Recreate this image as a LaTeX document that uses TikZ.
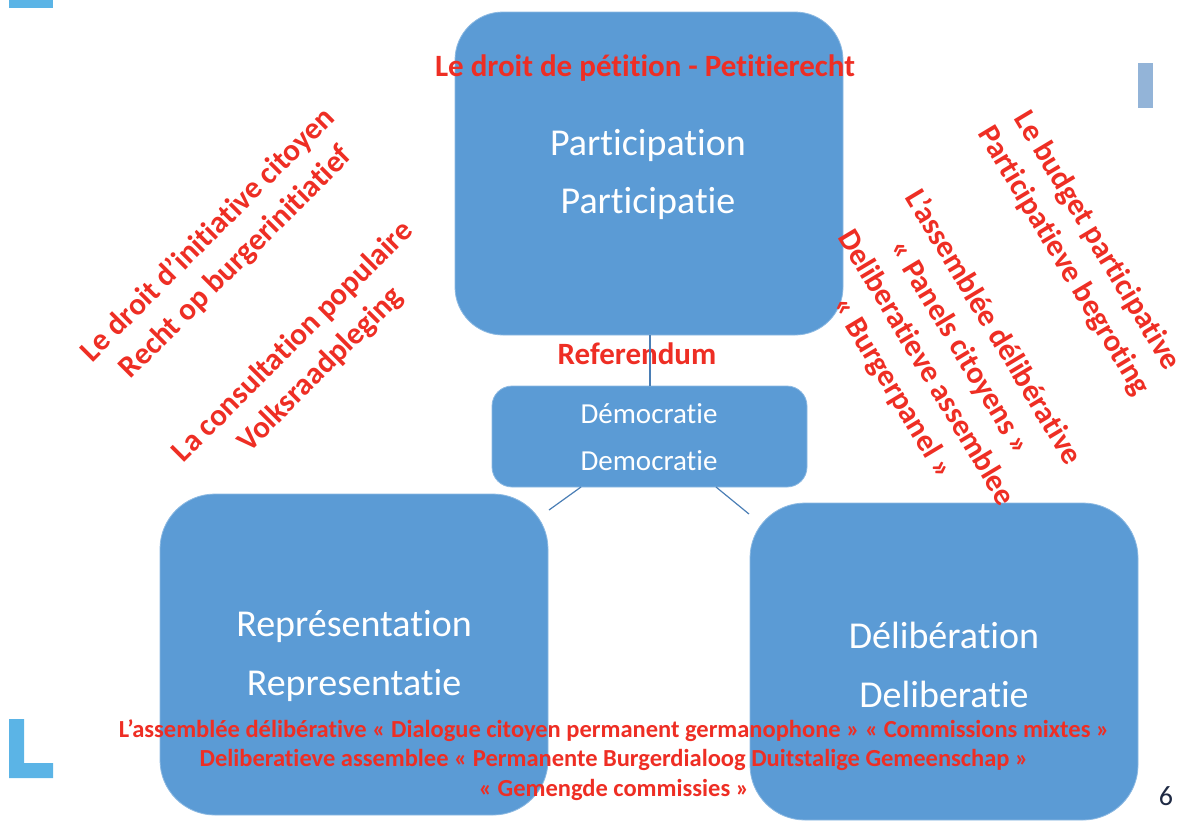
\documentclass[tikz,border=0pt]{standalone}
\usepackage{fontspec}
\setmainfont{Carlito}[Ligatures=NoCommon]
\definecolor{boxblue}{HTML}{5B9BD5}
\definecolor{lineblue}{HTML}{4A7EB5}
\definecolor{markblue}{HTML}{5BB4E6}
\definecolor{barblue}{HTML}{93B4D8}
\definecolor{tred}{HTML}{EE2E24}
\definecolor{navy}{HTML}{1F2A44}
\tikzset{
  rbox/.style={fill=boxblue, draw=boxblue!70!white, line width=0.8pt},
  wtext/.style={text=white, align=center, inner sep=0pt},
  redtxt/.style={text=tred, align=center, inner sep=0pt, font=\bfseries\fontsize{31}{39}\selectfont},
  conn/.style={draw=lineblue, line width=1.2pt},
}
\begin{document}
\begin{tikzpicture}[x=1pt,y=-1pt]
\useasboundingbox (0,0) rectangle (1182,823);
% decorative marks
\fill[markblue] (9,0) rectangle (53,8);
\fill[barblue] (1138,63) rectangle (1153,108);
\fill[markblue] (9,719) -- (24,719) -- (24,763) -- (53,763) -- (53,778) -- (9,778) -- cycle;
\node[text=navy, font=\fontsize{28}{32}\selectfont, inner sep=0pt] (pnum) at (1166,796) {6};
% boxes
\draw[rbox, rounded corners=48pt] (455,12) rectangle (843,335);
\coordinate (partB) at (650,335);
\draw[rbox, rounded corners=20pt] (492,386) rectangle (807,487);
\coordinate (demT) at (650,386);
\coordinate (demBL) at (581,487);
\coordinate (demBR) at (716,487);
\draw[rbox, rounded corners=55pt] (160,494) rectangle (548,815);
\coordinate (repTR) at (549,510);
\draw[rbox, rounded corners=55pt] (750,503) rectangle (1138,820);
\coordinate (delTL) at (749,514);
% box texts
\node[wtext, font=\fontsize{38}{58}\selectfont] (part) at (648,174) {Participation\\Participatie};
\node[wtext, font=\fontsize{29}{47}\selectfont] (dem) at (649,437) {Démocratie\\Democratie};
\node[wtext, font=\fontsize{38}{59}\selectfont] (rep) at (354,656) {Représentation\\Representatie};
\node[wtext, font=\fontsize{38}{59}\selectfont] (del) at (944,665) {Délibération\\Deliberatie};
% red annotations
\node[redtxt] (petit) at (645,68) {Le droit de pétition - Petitierecht};
\node[redtxt] (refer) at (637,354) {Referendum};
\node[redtxt, rotate=45] (init) at (222,249) {Le droit d’initiative citoyen\\Recht op burgerinitiatief};
\node[redtxt, rotate=45] (consult) at (307,356) {La consultation populaire\\Volksraadpleging};
\node[redtxt, rotate=-59] (budget) at (1080,251) {Le budget participative\\Participatieve begroting};
\node[redtxt, rotate=-59] (assem) at (943,358) {L’assemblée délibérative\\« Panels citoyens »\\Deliberatieve assemblee\\« Burgerpanel »};
\node[redtxt, font=\bfseries\fontsize{24.5}{29.5}\selectfont] (bottom) at (614,760) {L’assemblée délibérative « Dialogue citoyen permanent germanophone » « Commissions mixtes »\\Deliberatieve assemblee « Permanente Burgerdialoog Duitstalige Gemeenschap »\\« Gemengde commissies »};
% connectors
\draw[conn] (partB) -- (demT);
\draw[conn] (demBL) -- (repTR);
\draw[conn] (demBR) -- (delTL);
\end{tikzpicture}
\end{document}
